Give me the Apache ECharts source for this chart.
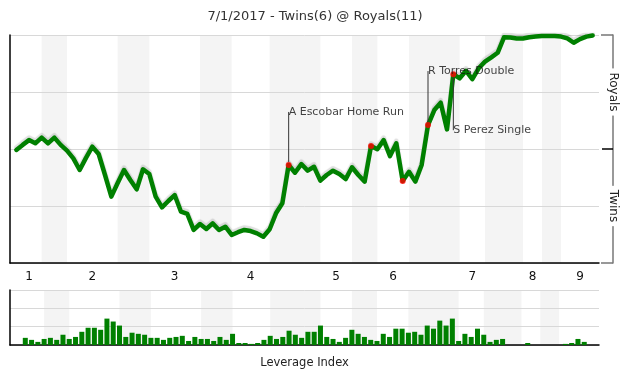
<!DOCTYPE html>
<html><head><meta charset="utf-8">
<script src="https://cdn.jsdelivr.net/npm/echarts@6/dist/echarts.min.js"></script>
<style>html,body{margin:0;padding:0;background:#fff}#c{width:630px;height:380px}</style>
</head><body><div id="c"></div>
<script>
// ---- data ----
const titleText = '7/1/2017 - Twins(6) @ Royals(11)';
// Royals win probability (%) after each play, play index 0..91
const winProb = [
  49.6,51.8,53.9,52.5,55.0,52.5,55.0,51.8,49.3,45.9,
  40.8,46.1,51.0,47.8,38.6,29.1,35.1,40.8,36.4,32.3,
  41.1,39.0,29.1,24.4,27.2,29.8,22.5,21.5,14.5,17.1,
  14.9,17.4,14.5,15.9,12.3,13.5,14.5,14.0,13.0,11.5,
  14.8,21.8,26.2,43.0,39.6,43.4,40.5,42.2,36.1,38.6,
  40.5,39.0,36.8,42.0,38.6,35.7,51.3,49.9,53.9,46.9,
  52.5,36.0,40.0,35.7,43.0,60.5,67.1,70.3,58.6,82.8,
  81.0,84.3,80.6,85.4,88.3,90.2,92.2,99.0,98.9,98.5,
  98.5,99.0,99.3,99.6,99.6,99.6,99.3,98.5,96.6,98.2,
  99.3,99.8
];
// leverage index per play, play index 0..90
const leverage = [
  0,
  0.39,0.28,0.17,0.33,0.39,0.28,0.56,0.33,0.44,0.72,
  0.94,0.94,0.83,1.44,1.28,1.06,0.44,0.67,0.61,0.56,
  0.39,0.39,0.28,0.39,0.44,0.50,0.22,0.44,0.33,0.33,
  0.22,0.44,0.28,0.61,0.11,0.11,0.06,0.11,0.28,0.50,
  0.33,0.44,0.78,0.56,0.39,0.72,0.72,1.06,0.44,0.33,
  0.17,0.39,0.83,0.61,0.44,0.28,0.22,0.61,0.44,0.89,
  0.89,0.67,0.72,0.56,1.06,0.89,1.33,1.06,1.44,0.22,
  0.61,0.44,0.89,0.56,0.17,0.28,0.33,0,0,0,
  0.11,0,0,0,0,0,0.06,0.11,0.33,0.17
];
// half-inning boundaries (play index): top1, bot1, top2, bot2, ... , end
const halfStarts = [0,4,8,16,21,29,34,40,48,53,57,62,70,74,80,83,86,92];
const inningLabels = ['1','2','3','4','5','6','7','8','9'];
const keyPlays = [43,56,61,65,69];
const keyNames = ['A Escobar Home Run','','','R Torres Double','S Perez Single'];
const sideLabels = ['Twins','Royals'];
const sideLabelPos = [25,75];

// ---- derived ----
const FONT = 'DejaVu Sans';
const bands = [];
for (let i = 1; i < halfStarts.length - 1; i += 2) {
  bands.push([{xAxis: halfStarts[i]}, {xAxis: halfStarts[i + 1]}]);
}
const inningLabelPos = [];
for (let i = 0; i < halfStarts.length - 1; i += 2) {
  inningLabelPos.push((halfStarts[i] + halfStarts[i + 1]) / 2);
}
const labelShift = [-53, 0, 0, -54, 56];

const chart = echarts.init(document.getElementById('c'));
chart.setOption({
  animation: false,
  backgroundColor: '#fff',
  title: {
    text: titleText, left: 'center', top: 5,
    textStyle: {fontSize: 13, fontWeight: 'normal', color: '#333', fontFamily: FONT}
  },
  grid: [
    {left: 10, right: 31, top: 35, bottom: 117},
    {left: 10, right: 31, top: 290, bottom: 35}
  ],
  xAxis: [
    {
      gridIndex: 0, type: 'value', min: -1, max: 92, z: 2,
      axisLine: {show: true, onZero: false, lineStyle: {color: '#000', width: 1.5}},
      axisTick: {show: false}, splitLine: {show: false},
      axisLabel: {
        customValues: inningLabelPos,
        formatter: v => inningLabels[inningLabelPos.indexOf(v)],
        color: '#111', fontSize: 12, margin: 8, fontFamily: FONT
      }
    },
    {
      gridIndex: 1, type: 'value', min: -1.435, max: 92.35, z: 2,
      axisLine: {show: true, onZero: false, lineStyle: {color: '#000', width: 1.5}},
      axisTick: {show: false}, splitLine: {show: false}, axisLabel: {show: false},
      name: 'Leverage Index', nameLocation: 'middle', nameGap: 12,
      nameTextStyle: {fontSize: 11.5, color: '#222', fontFamily: FONT}
    }
  ],
  yAxis: [
    {
      gridIndex: 0, type: 'value', min: 0, max: 100, interval: 25, z: 2,
      axisLine: {show: true, onZero: false, lineStyle: {color: '#000', width: 1.5}},
      axisTick: {show: false}, axisLabel: {show: false},
      splitLine: {lineStyle: {color: '#d8d8d8', width: 1}}
    },
    {
      gridIndex: 0, type: 'value', min: 0, max: 100, position: 'right', offset: 14,
      axisLine: {show: true, onZero: false, lineStyle: {color: '#777', width: 1.5}},
      axisTick: {show: true, inside: true, length: 12, customValues: [0, 100], lineStyle: {color: '#777', width: 1.5}},
      axisLabel: {
        customValues: sideLabelPos,
        formatter: v => sideLabels[sideLabelPos.indexOf(v)],
        rotate: -90, margin: 0, align: 'center', verticalAlign: 'middle',
        backgroundColor: '#fff', padding: [0, 4],
        color: '#222', fontSize: 12, fontFamily: FONT
      },
      splitLine: {show: false}
    },
    {
      gridIndex: 0, type: 'value', min: 0, max: 100, position: 'right', offset: 14,
      axisLine: {show: false, onZero: false},
      axisTick: {show: true, inside: true, length: 11, customValues: [50], lineStyle: {color: '#000', width: 1.5}},
      axisLabel: {show: false}, splitLine: {show: false}
    },
    {
      gridIndex: 1, type: 'value', min: 0, max: 3, interval: 1, z: 2,
      axisLine: {show: true, onZero: false, lineStyle: {color: '#000', width: 1.5}},
      axisTick: {show: false}, axisLabel: {show: false},
      splitLine: {lineStyle: {color: '#d8d8d8', width: 1}}
    }
  ],
  series: [
    {
      type: 'line', xAxisIndex: 0, yAxisIndex: 0, z: 3,
      data: winProb.map((v, i) => [i, v]),
      showSymbol: false, silent: true,
      lineStyle: {color: '#008000', width: 4.5, join: 'round', cap: 'round',
        shadowColor: 'rgba(0,0,0,0.13)', shadowBlur: 1, shadowOffsetY: -2.5},
      markArea: {silent: true, z: 1, itemStyle: {color: '#f4f4f4'}, data: bands}
    },
    {
      type: 'scatter', xAxisIndex: 0, yAxisIndex: 0, z: 5,
      symbolSize: 6, itemStyle: {color: '#ff0000'},
      data: keyPlays.map((k, i) => ({
        value: [k, winProb[k]], name: keyNames[i],
        label: {show: keyNames[i] !== ''}
      })),
      label: {
        formatter: p => p.name, color: '#111', fontSize: 11, fontFamily: FONT
      },
      labelLine: {show: true, lineStyle: {color: '#333', width: 1}},
      labelLayout: function (p) {
        const s = labelShift[p.dataIndex];
        const cx = p.rect.x + p.rect.width / 2;
        const cy = p.rect.y + p.rect.height / 2;
        const dir = s < 0 ? -1 : 1;
        const ly = cy + s;
        const end = dir < 0 ? ly + 8 : ly - 4;
        return {
          x: cx, y: ly, align: 'left', verticalAlign: 'middle',
          labelLinePoints: [[cx, cy + dir * 3], [cx, cy + dir * 3], [cx, end]]
        };
      }
    },
    {
      type: 'bar', xAxisIndex: 1, yAxisIndex: 3, z: 3,
      data: leverage.map((v, i) => [i, v]),
      barWidth: 5, silent: true,
      itemStyle: {color: '#008000'},
      markArea: {silent: true, z: 1, itemStyle: {color: '#f4f4f4'}, data: bands}
    }
  ]
});
</script>
</body></html>
